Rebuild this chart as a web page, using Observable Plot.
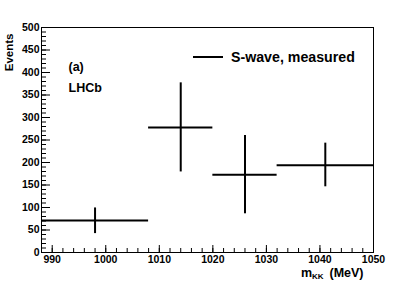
<!DOCTYPE html>
<html>
<head>
<meta charset="utf-8">
<script src="https://cdn.jsdelivr.net/npm/d3@7"></script>
<script src="https://cdn.jsdelivr.net/npm/@observablehq/plot@0.6"></script>
<style>
  html, body { margin: 0; padding: 0; background: #fff; }
  #wrap { position: relative; width: 415px; height: 281px; font-family: "Liberation Sans", Arial, sans-serif; }
  #legend { position: absolute; left: 193px; top: 49px; display: flex; align-items: center; font-weight: bold; font-size: 14.2px; color: #000; white-space: nowrap; }
  #legend .sw { width: 30px; height: 0; border-top: 2px solid #000; margin-right: 8px; }
</style>
</head>
<body>
<div id="wrap"><div id="legend"><span class="sw"></span><span>S-wave, measured</span></div></div>
<script>
const binCenter = [998, 1014, 1026, 1041];
const binLow    = [988, 1008, 1020, 1032];
const binHigh   = [1008, 1020, 1032, 1050];
const events    = [71, 278, 173, 194];
const errLow    = [42, 179, 86, 146];
const errHigh   = [99, 377, 260, 243];

const xMajor = [990, 1000, 1010, 1020, 1030, 1040, 1050];
const xMinor = d3.range(988, 1051, 2);
const yMajor = [0, 50, 100, 150, 200, 250, 300, 350, 400, 450, 500];
const yMinor = d3.range(0, 501, 10);

const data = binCenter.map((c, i) => ({c, lo: binLow[i], hi: binHigh[i], y: events[i], ylo: errLow[i], yhi: errHigh[i]}));

const font = {fontFamily: "Liberation Sans, Arial, sans-serif", fontWeight: "bold", fill: "#000"};

const chart = Plot.plot({
  width: 415,
  height: 281,
  marginLeft: 41,
  marginRight: 42,
  marginTop: 27,
  marginBottom: 29,
  style: {fontFamily: "Liberation Sans, Arial, sans-serif", fontSize: "10.5px", fontWeight: "bold", color: "#000", background: "#fff"},
  x: {domain: [988, 1050]},
  y: {domain: [0, 500]},
  marks: [
    Plot.axisX({ticks: xMinor, tickSize: -4, text: null, label: null}),
    Plot.axisX({ticks: xMajor, tickSize: -7, text: null, label: null}),
    Plot.axisX({ticks: xMajor, tickSize: 0, tickPadding: 3, label: null, tickFormat: d => String(d)}),
    Plot.axisY({ticks: yMinor, tickSize: -5, text: null, label: null}),
    Plot.axisY({ticks: yMajor, tickSize: -9, text: null, label: null}),
    Plot.axisY({ticks: yMajor, tickSize: 0, tickPadding: 2, label: null, tickFormat: d => String(d)}),
    Plot.frame({stroke: "#000", strokeWidth: 1}),
    Plot.ruleY(data, {y: "y", x1: "lo", x2: "hi", stroke: "#000", strokeWidth: 2}),
    Plot.ruleX(data, {x: "c", y1: "ylo", y2: "yhi", stroke: "#000", strokeWidth: 2}),
    Plot.text(["(a)"], {frameAnchor: "top-left", dx: 27, dy: 43, lineAnchor: "bottom", textAnchor: "start", fontSize: 12.5, ...font}),
    Plot.text(["LHCb"], {frameAnchor: "top-left", dx: 27, dy: 64, lineAnchor: "bottom", textAnchor: "start", fontSize: 12.5, ...font}),
    Plot.text(["Events"], {frameAnchor: "top-left", rotate: -90, textAnchor: "end", lineAnchor: "middle", dx: -32, dy: 6, fontSize: 11.5, ...font}),
    Plot.text(["m"], {frameAnchor: "bottom-right", textAnchor: "start", lineAnchor: "bottom", dx: -72.5, dy: 24.5, fontSize: 12.5, ...font}),
    Plot.text(["KK"], {frameAnchor: "bottom-right", textAnchor: "start", lineAnchor: "bottom", dx: -61.5, dy: 26.5, fontSize: 8, ...font}),
    Plot.text(["(MeV)"], {frameAnchor: "bottom-right", textAnchor: "end", lineAnchor: "bottom", dx: -10, dy: 24.5, fontSize: 12.5, ...font})
  ]
});
document.getElementById("wrap").prepend(chart);
</script>
</body>
</html>
